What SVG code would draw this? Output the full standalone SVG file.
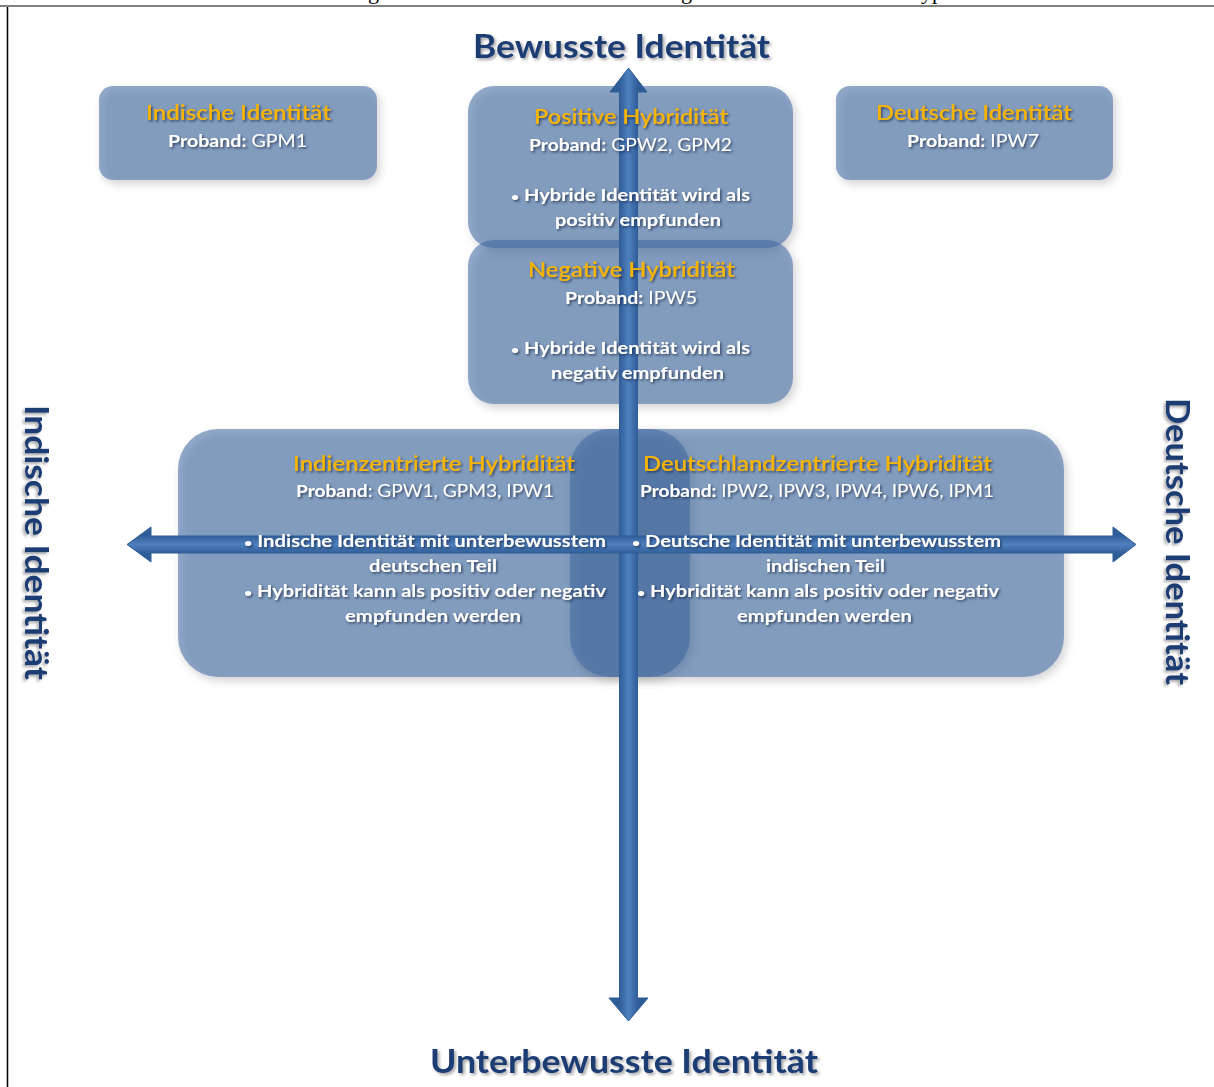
<svg xmlns="http://www.w3.org/2000/svg" width="1214" height="1087" viewBox="0 0 1214 1087">
<defs>
<style>
.box{fill:#4068A0;fill-opacity:0.56;filter:url(#bs)}
.ttl{font-family:Lato,"Open Sans","Liberation Sans",sans-serif;font-size:21px;font-weight:600;fill:#F5B400;filter:url(#ts)}
.bd{font-family:Lato,"Open Sans","Liberation Sans",sans-serif;font-size:17px;fill:#FFFFFF;filter:url(#ts)}
.b{font-weight:bold}
.bul{font-size:12px}
.ax{font-family:Lato,"Open Sans","Liberation Sans",sans-serif;font-size:33px;font-weight:bold;fill:#1F3D73;filter:url(#as)}
.cap{font-family:"Liberation Serif",serif;font-size:22px;fill:#000}
.arr{stroke:#2F5D96;stroke-width:1}
</style>
<filter id="bs" x="-10%" y="-10%" width="125%" height="130%"><feDropShadow dx="3" dy="4" stdDeviation="4" flood-color="#000" flood-opacity="0.3"/></filter>
<filter id="ts" x="-5%" y="-30%" width="115%" height="170%"><feDropShadow dx="1.5" dy="1.5" stdDeviation="1" flood-color="#1a2a44" flood-opacity="0.75"/></filter>
<filter id="as" x="-5%" y="-30%" width="115%" height="170%"><feDropShadow dx="2" dy="2" stdDeviation="1.5" flood-color="#000" flood-opacity="0.35"/></filter>
<linearGradient id="gv" gradientUnits="userSpaceOnUse" x1="619" y1="0" x2="638" y2="0">
<stop offset="0" stop-color="#2E5C97"/><stop offset="0.5" stop-color="#4F80BE"/><stop offset="1" stop-color="#2E5C97"/>
</linearGradient>
<linearGradient id="gh" gradientUnits="userSpaceOnUse" x1="0" y1="535" x2="0" y2="554">
<stop offset="0" stop-color="#2E5C97"/><stop offset="0.5" stop-color="#4F80BE"/><stop offset="1" stop-color="#2E5C97"/>
</linearGradient>
</defs>
<rect x="0" y="0" width="1214" height="1087" fill="#FFFFFF"/>
<g id="frame">
<line x1="0" y1="6" x2="1214" y2="6" stroke="#808080" stroke-width="2"/>
<line x1="7.5" y1="7" x2="7.5" y2="1087" stroke="#000" stroke-width="1.5"/>
<text class="cap" x="368" y="-1">g</text>
<text class="cap" x="681" y="-1">g</text>
<text class="cap" x="921" y="-1">yp</text>
</g>
<g id="node-shapes">
<g id="node-indische"><rect class="box" x="99" y="86" width="278" height="94" rx="14"/></g>
<g id="node-positive"><rect class="box" x="468" y="86" width="325" height="162" rx="26"/></g>
<g id="node-negative"><rect class="box" x="468" y="240" width="325" height="164" rx="26"/></g>
<g id="node-deutsche"><rect class="box" x="836" y="86" width="277" height="94" rx="14"/></g>
<g id="node-indienzentriert"><rect class="box" x="178" y="429" width="512" height="248" rx="40"/></g>
<g id="node-deutschlandzentriert"><rect class="box" x="570" y="429" width="494" height="248" rx="40"/></g>
</g>
<g id="connectors">
<path class="arr" fill="url(#gv)" d="M628.5,68 L647,92 L637.5,92 L637.5,998 L648,998 L628.5,1021 L609,998 L619.5,998 L619.5,92 L610,92 Z"/>
<path class="arr" fill="url(#gh)" d="M127,544.5 L151,527 L151,536 L1113,536 L1113,527 L1136,544.5 L1113,562 L1113,553 L151,553 L151,562 Z"/>
</g>
<g id="axis-labels">
<text class="ax" x="473" y="58" textLength="297" lengthAdjust="spacingAndGlyphs">Bewusste Identität</text>
<text class="ax" x="430" y="1073" textLength="388" lengthAdjust="spacingAndGlyphs">Unterbewusste Identität</text>
<text class="ax" transform="translate(25,405) rotate(90)" x="0" y="0" textLength="275" lengthAdjust="spacingAndGlyphs">Indische Identität</text>
<text class="ax" transform="translate(1166,398) rotate(90)" x="0" y="0" textLength="287" lengthAdjust="spacingAndGlyphs">Deutsche Identität</text>
</g>
<g id="node-labels">
<g id="label-indische">
<text class="ttl" x="146" y="120" textLength="185" lengthAdjust="spacingAndGlyphs">Indische Identität</text>
<text class="bd" x="168" y="147" textLength="139" lengthAdjust="spacingAndGlyphs"><tspan class="b">Proband:</tspan> GPM1</text>
</g>
<g id="label-positive">
<text class="ttl" x="534" y="124" textLength="194" lengthAdjust="spacingAndGlyphs">Positive Hybridität</text>
<text class="bd" x="529" y="151" textLength="203" lengthAdjust="spacingAndGlyphs"><tspan class="b">Proband:</tspan> GPW2, GPM2</text>
<text class="bd b" x="511" y="201" textLength="239" lengthAdjust="spacingAndGlyphs"><tspan class="bul">•</tspan> Hybride Identität wird als</text>
<text class="bd b" x="555" y="226" textLength="166" lengthAdjust="spacingAndGlyphs">positiv empfunden</text>
</g>
<g id="label-negative">
<text class="ttl" x="528" y="277" textLength="207" lengthAdjust="spacingAndGlyphs">Negative Hybridität</text>
<text class="bd" x="565" y="304" textLength="132" lengthAdjust="spacingAndGlyphs"><tspan class="b">Proband:</tspan> IPW5</text>
<text class="bd b" x="511" y="354" textLength="239" lengthAdjust="spacingAndGlyphs"><tspan class="bul">•</tspan> Hybride Identität wird als</text>
<text class="bd b" x="551" y="379" textLength="173" lengthAdjust="spacingAndGlyphs">negativ empfunden</text>
</g>
<g id="label-deutsche">
<text class="ttl" x="876" y="120" textLength="196" lengthAdjust="spacingAndGlyphs">Deutsche Identität</text>
<text class="bd" x="907" y="147" textLength="132" lengthAdjust="spacingAndGlyphs"><tspan class="b">Proband:</tspan> IPW7</text>
</g>
<g id="label-indienzentriert">
<text class="ttl" x="293" y="471" textLength="282" lengthAdjust="spacingAndGlyphs">Indienzentrierte Hybridität</text>
<text class="bd" x="296" y="497" textLength="258" lengthAdjust="spacingAndGlyphs"><tspan class="b">Proband</tspan>: GPW1, GPM3, IPW1</text>
<text class="bd b" x="244" y="547" textLength="362" lengthAdjust="spacingAndGlyphs"><tspan class="bul">•</tspan> Indische Identität mit unterbewusstem</text>
<text class="bd b" x="369" y="572" textLength="128" lengthAdjust="spacingAndGlyphs">deutschen Teil</text>
<text class="bd b" x="244" y="597" textLength="362" lengthAdjust="spacingAndGlyphs"><tspan class="bul">•</tspan> Hybridität kann als positiv oder negativ</text>
<text class="bd b" x="345" y="622" textLength="176" lengthAdjust="spacingAndGlyphs">empfunden werden</text>
</g>
<g id="label-deutschlandzentriert">
<text class="ttl" x="643" y="471" textLength="349" lengthAdjust="spacingAndGlyphs">Deutschlandzentrierte Hybridität</text>
<text class="bd" x="640" y="497" textLength="354" lengthAdjust="spacingAndGlyphs"><tspan class="b">Proband:</tspan> IPW2, IPW3, IPW4, IPW6, IPM1</text>
<text class="bd b" x="632" y="547" textLength="369" lengthAdjust="spacingAndGlyphs"><tspan class="bul">•</tspan> Deutsche Identität mit unterbewusstem</text>
<text class="bd b" x="766" y="572" textLength="119" lengthAdjust="spacingAndGlyphs">indischen Teil</text>
<text class="bd b" x="637" y="597" textLength="362" lengthAdjust="spacingAndGlyphs"><tspan class="bul">•</tspan> Hybridität kann als positiv oder negativ</text>
<text class="bd b" x="737" y="622" textLength="175" lengthAdjust="spacingAndGlyphs">empfunden werden</text>
</g>
</g>
</svg>
